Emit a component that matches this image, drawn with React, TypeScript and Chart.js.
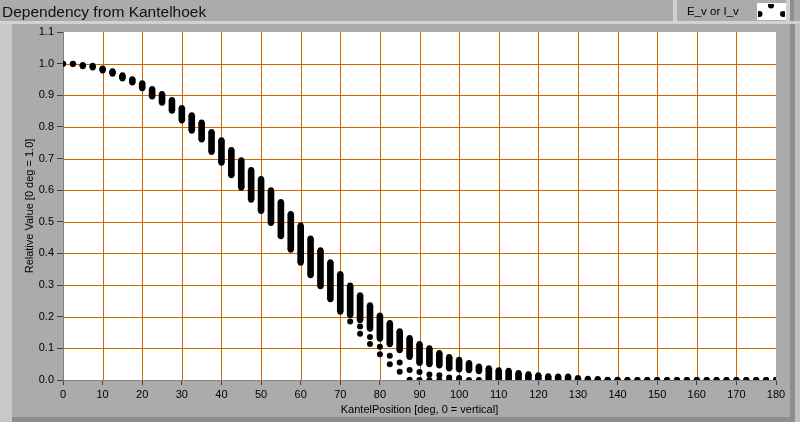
import React, { useEffect, useRef } from "react";
import { Chart, registerables } from "chart.js";

Chart.register(...registerables);

// Kantel angle positions (deg)
const ANGLES = [
  0, 2.5, 5, 7.5, 10, 12.5, 15, 17.5, 20, 22.5, 25, 27.5, 30, 32.5, 35, 37.5,
  40, 42.5, 45, 47.5, 50, 52.5, 55, 57.5, 60, 62.5, 65, 67.5, 70, 72.5, 75,
  77.5, 80, 82.5, 85, 87.5, 90, 92.5, 95, 97.5, 100, 102.5, 105, 107.5, 110,
  112.5, 115, 117.5, 120, 122.5, 125, 127.5, 130, 132.5, 135, 137.5, 140,
  142.5, 145, 147.5, 150, 152.5, 155, 157.5, 160, 162.5, 165, 167.5, 170,
  172.5, 175, 177.5, 180,
];

// Highest measured relative value at each angle
const UPPER = [
  1.0, 1.0, 0.996, 0.993, 0.985, 0.976, 0.963, 0.951, 0.938, 0.92, 0.904,
  0.885, 0.86, 0.837, 0.814, 0.784, 0.758, 0.727, 0.695, 0.664, 0.635, 0.6,
  0.563, 0.525, 0.488, 0.447, 0.41, 0.372, 0.335, 0.299, 0.268, 0.236, 0.204,
  0.18, 0.154, 0.133, 0.114, 0.1, 0.085, 0.073, 0.064, 0.054, 0.043, 0.037,
  0.031, 0.029, 0.022, 0.018, 0.015, 0.012, 0.011, 0.011, 0.006, 0.004, 0.003,
  0.001, 0.001, 0.0, 0.0, 0.0, 0.0, 0.0, 0.0, 0.0, 0.0, 0.0, 0.0, 0.0, 0.0,
  0.0, 0.0, 0.0, 0.0,
];

// Lowest value of the continuous cluster at each angle
const LOWER = [
  1.0, 0.999, 0.992, 0.988, 0.978, 0.968, 0.953, 0.94, 0.922, 0.896, 0.876,
  0.851, 0.82, 0.788, 0.76, 0.721, 0.687, 0.647, 0.608, 0.57, 0.534, 0.496,
  0.454, 0.412, 0.371, 0.331, 0.296, 0.255, 0.216, 0.205, 0.189, 0.162, 0.13,
  0.113, 0.094, 0.073, 0.054, 0.05, 0.046, 0.036, 0.033, 0.031, 0.028, 0.0,
  0.0, 0.0, 0.0, 0.0, 0.0, 0.0, 0.0, 0.0, 0.0, 0.0, 0.0, 0.0, 0.0, 0.0, 0.0,
  0.0, 0.0, 0.0, 0.0, 0.0, 0.0, 0.0, 0.0, 0.0, 0.0, 0.0, 0.0, 0.0, 0.0,
];

// Separate (detached) measurements below the main cluster
const EXTRA_ANGLES = [
  72.5, 75, 75, 77.5, 77.5, 80, 80, 82.5, 82.5, 85, 85, 87.5, 87.5, 90, 90,
  92.5, 92.5, 95, 95, 97.5, 97.5, 100, 100, 102.5, 105,
];
const EXTRA_VALUES = [
  0.185, 0.169, 0.146, 0.136, 0.114, 0.105, 0.081, 0.077, 0.05, 0.055, 0.026,
  0.032, 0.001, 0.025, 0.0, 0.017, 0.0, 0.015, 0.0, 0.008, 0.0, 0.006, 0.0,
  0.0, 0.0,
];

const TITLE = "Dependency from Kantelhoek";
const X_TITLE = "KantelPosition [deg, 0 = vertical]";
const Y_TITLE = "Relative Value [0 deg = 1.0]";
const LEGEND_LABEL = "E_v or I_v";

const FONT = "'Liberation Sans', Arial, sans-serif";
const GRID = "#cc6a00";
const PANEL = "#ababab";

const framePlugin = {
  id: "labviewFrame",
  beforeDraw(chart: any) {
    const ctx = chart.ctx as CanvasRenderingContext2D;
    const { left, top, right, bottom } = chart.chartArea;
    const W = chart.width;
    const H = chart.height;
    ctx.save();
    ctx.fillStyle = PANEL;
    ctx.fillRect(0, 0, W, H);
    ctx.fillStyle = "#d2d2d2";
    ctx.fillRect(0, 21, W, 3);
    ctx.fillStyle = "#c8c8c8";
    ctx.fillRect(0, 24, 12, H - 24);
    ctx.fillStyle = "#8e8e8e";
    ctx.fillRect(790, 24, 5, H - 24);
    ctx.fillRect(12, 417, 783, 5);
    ctx.fillStyle = "#c0c0c0";
    ctx.fillRect(795, 24, 5, H - 24);
    ctx.fillStyle = "#ffffff";
    ctx.fillRect(left, top, right - left, bottom - top);
    ctx.restore();
  },
  beforeDatasetsDraw(chart: any) {
    const ctx = chart.ctx as CanvasRenderingContext2D;
    const { left, top, right, bottom } = chart.chartArea;
    const xs = chart.scales.x;
    const ys = chart.scales.y;
    ctx.save();
    ctx.strokeStyle = GRID;
    ctx.lineWidth = 1;
    ctx.beginPath();
    for (const t of xs.ticks) {
      const v = t.value;
      if (Math.abs(v - xs.min) < 1e-6 || Math.abs(v - xs.max) < 1e-6) continue;
      const px = Math.round(xs.getPixelForValue(v)) + 0.5;
      ctx.moveTo(px, top);
      ctx.lineTo(px, bottom);
    }
    for (const t of ys.ticks) {
      const v = t.value;
      if (Math.abs(v - ys.min) < 1e-6 || Math.abs(v - ys.max) < 1e-6) continue;
      const py = Math.round(ys.getPixelForValue(v)) + 0.5;
      ctx.moveTo(left, py);
      ctx.lineTo(right, py);
    }
    ctx.stroke();
    ctx.restore();
  },
  afterDraw(chart: any) {
    const ctx = chart.ctx as CanvasRenderingContext2D;
    const { left, top, right, bottom } = chart.chartArea;
    ctx.save();
    ctx.fillStyle = "#111";
    ctx.font = `15.5px ${FONT}`;
    ctx.textAlign = "left";
    ctx.textBaseline = "alphabetic";
    ctx.fillText(TITLE, 2, 17);

    ctx.font = `11px ${FONT}`;
    ctx.fillStyle = "#000";
    ctx.textAlign = "center";
    ctx.textBaseline = "middle";
    ctx.fillText(X_TITLE, (left + right) / 2, 410);
    ctx.translate(29.5, (top + bottom) / 2);
    ctx.rotate(-Math.PI / 2);
    ctx.fillText(Y_TITLE, 0, 0);
    ctx.setTransform(1, 0, 0, 1, 0, 0);

    // legend
    ctx.fillStyle = "#d0d0d0";
    ctx.fillRect(673, 0, 4, 21);
    ctx.fillRect(786, 0, 4, 21);
    ctx.fillStyle = "#8e8e8e";
    ctx.fillRect(790, 0, 4, 21);
    ctx.fillStyle = "#000";
    ctx.font = `11.5px ${FONT}`;
    ctx.textAlign = "left";
    ctx.textBaseline = "alphabetic";
    ctx.fillText(LEGEND_LABEL, 687, 15);
    ctx.fillStyle = "#ffffff";
    ctx.fillRect(757, 3, 29, 17);
    ctx.beginPath();
    ctx.rect(758, 4, 27, 15);
    ctx.clip();
    ctx.fillStyle = "#000";
    for (const [px, py] of [
      [771, 5.5],
      [759.5, 14],
      [783, 14],
    ]) {
      ctx.beginPath();
      ctx.arc(px, py, 3, 0, Math.PI * 2);
      ctx.fill();
    }
    ctx.restore();
  },
};

export default function App() {
  const ref = useRef<HTMLCanvasElement>(null);

  useEffect(() => {
    const canvas = ref.current;
    if (!canvas) return;

    const bandData = ANGLES.map((a, i) => ({ x: a, y: [LOWER[i], UPPER[i]] }));
    const envelope = [
      ...ANGLES.map((a, i) => ({ x: a, y: UPPER[i] })),
      ...ANGLES.map((a, i) => ({ x: a, y: LOWER[i] })),
    ];
    const extra = EXTRA_ANGLES.map((a, i) => ({ x: a, y: EXTRA_VALUES[i] }));

    const chart = new Chart(canvas, {
      type: "scatter",
      data: {
        datasets: [
          {
            type: "bar",
            label: LEGEND_LABEL,
            data: bandData as any,
            backgroundColor: "#000",
            borderWidth: 0,
            barThickness: 6,
            clip: 0,
          } as any,
          {
            type: "scatter",
            label: LEGEND_LABEL,
            data: envelope,
            pointRadius: 3,
            pointBorderWidth: 0,
            backgroundColor: "#000",
            borderColor: "#000",
            clip: 0,
          } as any,
          {
            type: "scatter",
            label: LEGEND_LABEL,
            data: extra,
            pointRadius: 3,
            pointBorderWidth: 0,
            backgroundColor: "#000",
            borderColor: "#000",
            clip: 0,
          } as any,
        ],
      },
      options: {
        animation: false,
        responsive: false,
        devicePixelRatio: 1,
        events: [],
        layout: { padding: { top: 32, right: 24, left: 0, bottom: 0 } },
        plugins: {
          legend: { display: false },
          tooltip: { enabled: false },
          title: { display: false },
        },
        scales: {
          x: {
            type: "linear",
            min: 0,
            max: 180,
            offset: false,
            afterFit: (s: any) => {
              s.height = 42;
            },
            ticks: {
              stepSize: 10,
              autoSkip: false,
              maxRotation: 0,
              color: "#000",
              padding: 3,
              font: { family: FONT, size: 11 },
            },
            grid: {
              offset: false,
              drawOnChartArea: false,
              tickLength: 5,
              tickColor: "#404040",
            },
            border: { color: "#808080", width: 1 },
          },
          y: {
            type: "linear",
            min: 0,
            max: 1.1,
            afterFit: (s: any) => {
              s.width = 63;
            },
            ticks: {
              stepSize: 0.1,
              autoSkip: false,
              color: "#000",
              padding: 3,
              font: { family: FONT, size: 11 },
              callback: (v: any) => Number(v).toFixed(1),
            },
            grid: {
              drawOnChartArea: false,
              tickLength: 6,
              tickColor: "#404040",
            },
            border: { color: "#808080", width: 1 },
          },
        },
      },
      plugins: [framePlugin],
    } as any);

    return () => chart.destroy();
  }, []);

  return (
    <div style={{ position: "fixed", left: 0, top: 0, width: 800, height: 422 }}>
      <canvas
        ref={ref}
        width={800}
        height={422}
        style={{ display: "block", width: 800, height: 422 }}
      />
    </div>
  );
}
